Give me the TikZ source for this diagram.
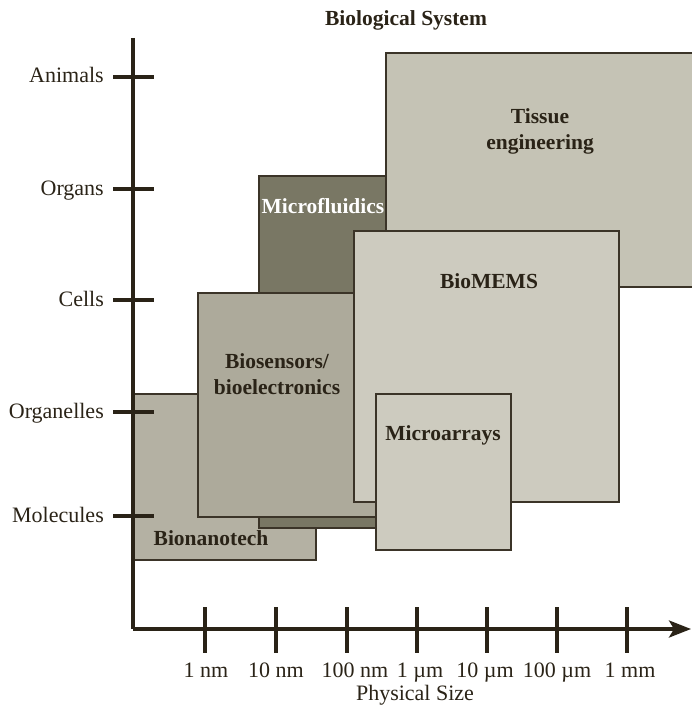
\documentclass[tikz,border=0pt]{standalone}
\usepackage{fontspec}
\setmainfont{Liberation Serif}
\usetikzlibrary{arrows.meta}
\definecolor{inkc}{HTML}{2A2317}
\definecolor{edgec}{HTML}{3B3428}
\definecolor{tissuec}{HTML}{C5C3B5}
\definecolor{memsc}{HTML}{CDCBBF}
\definecolor{sensorc}{HTML}{ADAA9B}
\definecolor{nanoc}{HTML}{B4B1A3}
\definecolor{fluidc}{HTML}{797764}
\tikzset{
  field/.style={draw=edgec, line width=1.4pt},
  axisline/.style={draw=inkc, line width=3.5pt},
  ticklabel/.style={font=\fontsize{22}{26}\selectfont, text=inkc, inner sep=0pt, text height=14pt, text depth=4pt},
  fieldlabel/.style={font=\fontsize{21.5}{26}\selectfont\bfseries, text=inkc, inner sep=0pt, align=center},
}
\begin{document}
\begin{tikzpicture}[x=1pt,y=-1pt]
\useasboundingbox (0,0) rectangle (692,706);
\clip (0,0) rectangle (692,706);
% application fields, back to front
\draw[field, fill=nanoc]   (133,394) rectangle (316,560);
\draw[field, fill=fluidc]  (259,176) rectangle (386,528);
\draw[field, fill=tissuec] (386,53)  rectangle (700,287);
\draw[field, fill=sensorc] (198,293) rectangle (380,517);
\draw[field, fill=memsc]   (354,231) rectangle (619,502);
\draw[field, fill=memsc]   (376,394) rectangle (511,550);
% field names
\node[fieldlabel] (title)  at (406,20)  {Biological System};
\node[fieldlabel] (tissue) at (540,131) {Tissue\\engineering};
\node[fieldlabel, text=white] (fluid) at (323,206) {Microfluidics};
\node[fieldlabel] (mems)   at (489,281) {BioMEMS};
\node[fieldlabel] (sensor) at (277,374) {Biosensors/\\bioelectronics};
\node[fieldlabel] (arrays) at (443,435) {Microarrays};
\node[fieldlabel] (nano)   at (211,538) {Bionanotech};
% axes
\coordinate (ytop) at (133,38);
\coordinate (origin) at (133,629);
\coordinate (xend) at (691,629);
\draw[axisline] (ytop) -- (origin);
\draw[axisline, -{Stealth[length=22pt,width=17pt,inset=5pt]}] (origin) -- (xend);
% vertical ticks: biological system
\foreach \yy/\lab/\nm in {77/Animals/animals,189/Organs/organs,300/Cells/cells,412/Organelles/organelles,516/Molecules/molecules}{
  \draw[axisline] (113,\yy) -- (154,\yy);
  \node[ticklabel, anchor=east] (\nm) at (104,\yy+1) {\lab};
}
% horizontal ticks: physical size
\foreach \xx/\lx/\lab/\nm in {205/206/1 nm/s1,276/276/10 nm/s2,347/355/100 nm/s3,417/420/1 µm/s4,487/485/10 µm/s5,557/557/100 µm/s6,627/630/1 mm/s7}{
  \draw[axisline] (\xx,607) -- (\xx,653);
  \node[ticklabel] (\nm) at (\lx,672) {\lab};
}
\node[ticklabel] (xtitle) at (415,695) {Physical Size};
\end{tikzpicture}
\end{document}
